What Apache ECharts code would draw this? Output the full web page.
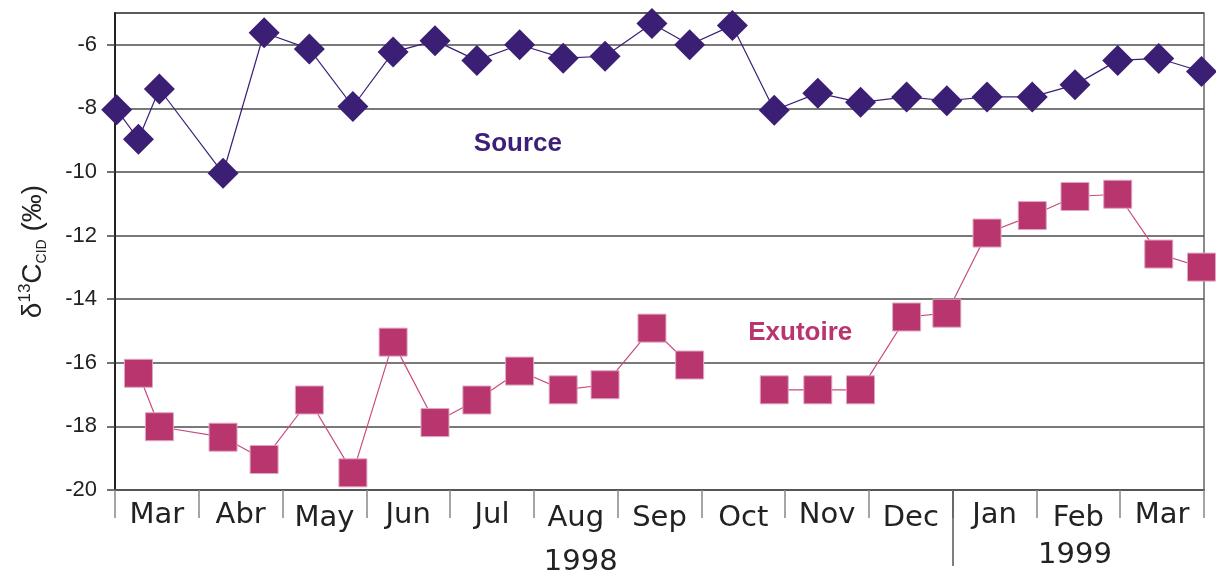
<!DOCTYPE html>
<html>
	<head>
		<meta charset="UTF-8" />
		<title>δ13C CID - Source / Exutoire</title>
		<style>
			html, body { margin: 0; padding: 0; background: #fff; }
			#chart { width: 1216px; height: 573px; }
		</style>
	</head>
	<body>
		<div id="chart"></div>
		<script type="text/javascript" src="https://cdn.jsdelivr.net/npm/echarts@6/dist/echarts.min.js"></script>
		<script type="text/javascript">
			// sampling dates, in months counted from 1 Mar 1998
			const sampleMonth = [0.02, 0.28, 0.53, 1.29, 1.78, 2.32, 2.84, 3.32, 3.82, 4.32, 4.83, 5.35, 5.85,
				6.41, 6.86, 7.37, 7.87, 8.39, 8.90, 9.45, 9.93, 10.41, 10.95, 11.46, 11.97, 12.46, 12.97];
			const sourceVal = [-8.04, -8.97, -7.39, -10.04, -5.62, -6.13, -7.94, -6.23, -5.87, -6.49, -6.0, -6.42, -6.36,
				-5.33, -6.0, -5.39, -8.06, -7.52, -7.81, -7.64, -7.76, -7.64, -7.64, -7.26, -6.49, -6.43, -6.84];
			const exutoireVal = [null, -16.33, -18.01, -18.34, -19.04, -17.17, -19.46, -15.35, -17.88, -17.17, -16.26, -16.85, -16.69,
				-14.91, -16.07, null, -16.85, -16.85, -16.85, -14.56, -14.44, -11.92, -11.37, -10.77, -10.70, -12.58, -12.99];
			const monthLabels = ["Mar", "Abr", "May", "Jun", "Jul", "Aug", "Sep", "Oct", "Nov", "Dec", "Jan", "Feb", "Mar"];
			const yearLabels = ["1998", "1999"];

			const chart = echarts.init(document.getElementById("chart"));
			//some month labels sit a little lower in the original
			const lowMonths = [2, 5, 6, 7, 9, 11];

			const toPairs = function(vals) {
				return sampleMonth.map(function(m, i) {
					return [m, vals[i] == null ? "-" : vals[i]];
				});
			};

			const option = {
				animation: false,
				grid: {
					left: 115, right: 12, top: 13, bottom: 83,
					outerBoundsMode: "none",
					show: true, borderColor: "#666", borderWidth: 1.5
				},
				xAxis: [{
					type: "value", min: 0, max: 13,
					axisLine: { show: true, onZero: false, lineStyle: { color: "#555", width: 2 } },
					axisTick: { show: false },
					axisLabel: { show: false },
					splitLine: { show: false }
				}, {
					type: "category", data: monthLabels, position: "bottom",
					axisLine: { show: false },
					axisTick: { show: true, interval: 0, length: 28, lineStyle: { color: "#888", width: 1.5 } },
					axisLabel: {
						interval: 0, margin: 8,
						fontFamily: "DejaVu Sans", fontSize: 29, color: "#222",
						formatter: function(v, i) {
							return lowMonths.indexOf(i) >= 0 ? "{lo|" + v + "}" : "{hi|" + v + "}";
						},
						rich: {
							hi: { fontFamily: "DejaVu Sans", fontSize: 29, color: "#222", lineHeight: 34 },
							lo: { fontFamily: "DejaVu Sans", fontSize: 29, color: "#222", lineHeight: 40 }
						}
					},
					splitLine: { show: false }
				}, {
					type: "value", min: 0, max: 13, position: "bottom",
					axisLine: { show: false },
					axisTick: { show: true, customValues: [10], length: 76, lineStyle: { color: "#555", width: 1.5 } },
					axisLabel: {
						show: true, customValues: [5.56, 11.46], margin: 48,
						formatter: function(v) { return v < 10 ? "{lo|" + yearLabels[0] + "}" : "{hi|" + yearLabels[1] + "}"; },
						rich: {
							hi: { fontFamily: "DejaVu Sans", fontSize: 29, color: "#222", lineHeight: 34 },
							lo: { fontFamily: "DejaVu Sans", fontSize: 29, color: "#222", lineHeight: 48 }
						}
					},
					splitLine: { show: false }
				}],
				yAxis: {
					type: "value", min: -20, max: -5, interval: 2,
					axisLine: { show: true, onZero: false, lineStyle: { color: "#222", width: 2 } },
					axisTick: { show: true, length: 8, lineStyle: { color: "#444", width: 1.5 } },
					axisLabel: {
						margin: 18, showMaxLabel: false,
						fontFamily: "Liberation Sans", fontSize: 22, color: "#222"
					},
					splitLine: { lineStyle: { color: "#4d4d4d", width: 1.5 } },
					name: "{m|δ}{sup|13}{m|C}{sub|CID}{m| (‰)}",
					nameLocation: "middle", nameRotate: 90, nameGap: 66,
					nameTextStyle: {
						rich: {
							m: { fontFamily: "Liberation Sans", fontSize: 28, color: "#222", lineHeight: 32 },
							sup: { fontFamily: "Liberation Sans", fontSize: 17, color: "#222", verticalAlign: "top", lineHeight: 32 },
							sub: { fontFamily: "Liberation Sans", fontSize: 14, color: "#222", verticalAlign: "bottom", lineHeight: 32 }
						}
					}
				},
				series: [{
					name: "Source", type: "line",
					data: toPairs(sourceVal),
					symbol: "diamond", symbolSize: 31,
					itemStyle: { color: "#3b1f74" },
					lineStyle: { color: "#3b1f74", width: 1.2 },
					markPoint: {
						silent: true, symbol: "circle", symbolSize: 0,
						label: {
							show: true, position: "inside", formatter: "Source",
							fontFamily: "Liberation Sans", fontWeight: "bold", fontSize: 26, color: "#3d1f78"
						},
						data: [{ coord: [4.81, -9.12] }]
					}
				}, {
					name: "Exutoire", type: "line",
					data: toPairs(exutoireVal),
					connectNulls: false,
					symbol: "rect", symbolSize: 28,
					itemStyle: { color: "#b9356d", borderColor: "#e0a6c2", borderWidth: 1 },
					lineStyle: { color: "#c94a82", width: 1.2 },
					markPoint: {
						silent: true, symbol: "circle", symbolSize: 0,
						label: {
							show: true, position: "inside", formatter: "Exutoire",
							fontFamily: "Liberation Sans", fontWeight: "bold", fontSize: 26, color: "#b8356e"
						},
						data: [{ coord: [8.18, -15.05] }]
					}
				}]
			};
			chart.setOption(option);

			window.addEventListener("resize", function() {
				chart.resize();
			});
		</script>
	</body>
</html>
